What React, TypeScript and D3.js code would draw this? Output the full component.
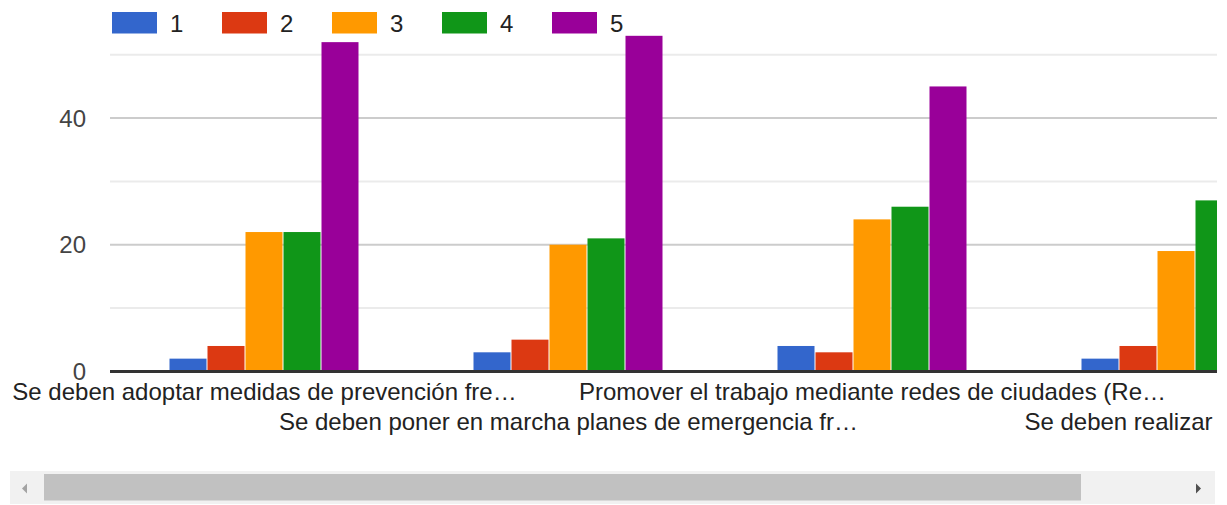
import React from "react";
import * as d3 from "d3";

const categories = [
  "Se deben adoptar medidas de prevención fre…",
  "Se deben poner en marcha planes de emergencia fr…",
  "Promover el trabajo mediante redes de ciudades (Re…",
  "Se deben realizar campañ…",
];
const seriesNames = ["1", "2", "3", "4", "5"];
const series1 = [2, 3, 4, 2];
const series2 = [4, 5, 3, 4];
const series3 = [22, 20, 24, 19];
const series4 = [22, 21, 26, 27];
const series5 = [52, 53, 45, 50];
const seriesValues = [series1, series2, series3, series4, series5];
const colors = ["#3366cc", "#dc3912", "#ff9900", "#109618", "#990099"];
const yTicks = [0, 10, 20, 30, 40, 50];
const yLabels = [0, 20, 40];

const W = 1227;
const H = 505;
const FONT = "'Liberation Sans', Arial, sans-serif";

export default function App() {
  const viewRight = 1217;
  const x0 = d3.scaleBand<string>().domain(categories).range([112.5, 112.5 + 304 * categories.length]);
  const x1 = d3.scaleBand<string>().domain(seriesNames).range([57, 247]);
  const y = d3.scaleLinear().domain([0, 50]).range([371.3, 54.8]);

  return (
    <div style={{ position: "absolute", left: 0, top: 0 }}>
      <svg width={W} height={H} style={{ display: "block", fontFamily: FONT }}>
        <defs>
          <clipPath id="view">
            <rect x={0} y={0} width={viewRight} height={465} />
          </clipPath>
        </defs>
        <rect x={0} y={0} width={W} height={H} fill="#fff" />
        <g clipPath="url(#view)">
          {/* legend */}
          {seriesNames.map((s, i) => (
            <g key={s} transform={`translate(${112 + i * 110},12)`}>
              <rect x={0} y={0} width={45} height={21.5} fill={colors[i]} />
              <text x={58} y={11} dominantBaseline="central" fontSize={24} fill="#222">
                {s}
              </text>
            </g>
          ))}
          {/* gridlines */}
          {yTicks.filter((t) => t !== 0).map((t) => (
            <line
              key={t}
              x1={110}
              x2={viewRight}
              y1={y(t)}
              y2={y(t)}
              stroke={yLabels.includes(t) ? "#cccccc" : "#ebebeb"}
              strokeWidth={2}
            />
          ))}
          {/* y labels */}
          {yLabels.map((t) => (
            <text key={t} x={86} y={y(t)} textAnchor="end" dominantBaseline="central" fontSize={24} fill="#444">
              {t}
            </text>
          ))}
          {/* bars */}
          {categories.map((c, ci) => (
            <g key={c} transform={`translate(${x0(c)},0)`}>
              {seriesNames.map((s, si) => {
                const v = seriesValues[si][ci];
                return (
                  <rect
                    key={s}
                    x={x1(s)!}
                    y={y(v)}
                    width={x1.bandwidth() - 1}
                    height={y(0) - y(v)}
                    fill={colors[si]}
                  />
                );
              })}
            </g>
          ))}
          {/* baseline */}
          <line x1={110} x2={viewRight} y1={y(0) + 0.2} y2={y(0) + 0.2} stroke="#333" strokeWidth={3} />
          {/* x labels */}
          {categories.map((c, ci) => (
            <text
              key={c}
              x={x0(c)! + x0.bandwidth() / 2}
              y={ci % 2 === 0 ? 400 : 430}
              textAnchor="middle"
              fontSize={24}
              fill="#222"
            >
              {c}
            </text>
          ))}
        </g>
        {/* scrollbar */}
        <rect x={10} y={471} width={1205} height={33} fill="#f1f1f1" />
        <rect x={44} y={474} width={1037} height={26.5} fill="#c1c1c1" />
        <path d="M22,488.5 L27,483.5 L27,493.5 Z" fill="#a3a3a3" />
        <path d="M1201,488.5 L1196,483.5 L1196,493.5 Z" fill="#505050" />
      </svg>
    </div>
  );
}
